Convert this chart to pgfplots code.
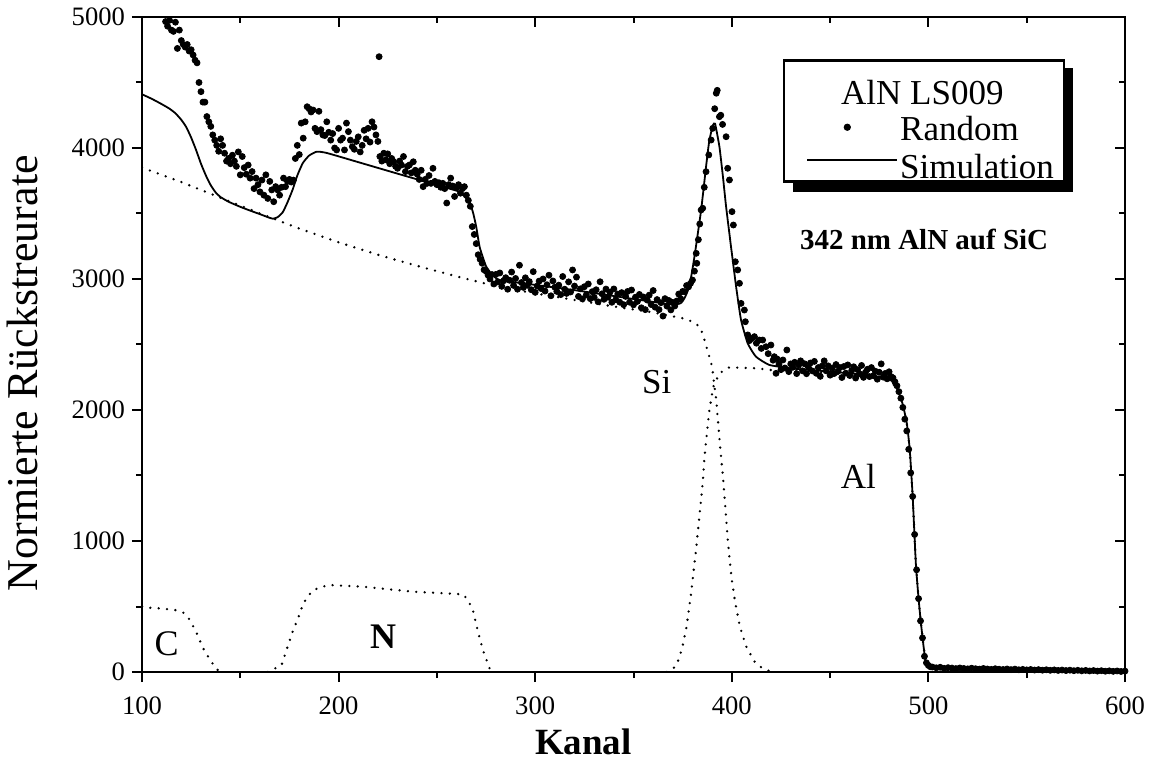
\documentclass[border=0pt]{standalone}
\usepackage{fontspec}
\setmainfont{Liberation Serif}
\usepackage{pgfplots}
\pgfplotsset{compat=1.18}
\usepackage{pgfplotstable}

\pgfplotstableread{
x y
100 5450
101 5400
102 5380
103 5300
104 5320
105 5250
106 5230
107 5180
108 5150
109 5100
110 5060
111 5010
112 4965
113 4930
114 4975
115 4900
116 4890
117 4960
118 4760
119 4900
120 4820
121 4790
122 4770
123 4790
124 4740
125 4750
126 4710
127 4670
128 4650
129 4500
130 4430
131 4350
132 4350
133 4240
134 4200
135 4165
136 4100
137 4060
138 4020
139 3975
140 4070
141 4020
142 3960
143 3900
144 3920
145 3880
146 3945
147 3900
148 3860
149 3970
150 3795
151 3935
152 3850
153 3800
154 3870
155 3770
156 3820
157 3690
158 3770
159 3720
160 3665
161 3755
162 3640
163 3795
164 3615
165 3745
166 3680
167 3590
168 3705
169 3680
170 3640
171 3700
172 3770
173 3705
174 3745
175 3760
176 3740
177 3755
178 3920
179 4020
180 3950
181 4190
182 4075
183 4200
184 4315
185 4300
186 4275
187 4290
188 4150
189 4125
190 4280
191 4140
192 4100
193 4095
194 4200
195 4120
196 4060
197 4110
198 4000
199 3985
200 4150
201 4060
202 4075
203 3985
204 4190
205 4125
206 4060
207 4010
208 3990
209 4050
210 4085
211 3970
212 4020
213 4135
214 4070
215 4150
216 4045
217 4200
218 4160
219 4100
220 4050
220.6 4697
221 3935
222 3900
223 3960
224 3910
225 3955
226 3880
227 3920
228 3895
229 3860
230 3845
231 3900
232 3870
233 3935
234 3820
235 3860
236 3870
237 3810
238 3895
239 3830
240 3800
241 3760
242 3830
243 3705
244 3760
245 3730
246 3790
247 3730
248 3845
249 3745
250 3720
251 3735
252 3700
253 3730
254 3690
255 3580
256 3720
257 3770
258 3710
259 3630
260 3700
261 3720
262 3655
263 3690
264 3705
265 3640
266 3600
267 3555
268 3400
269 3340
270 3270
271 3185
272 3150
273 3120
274 3070
275 3060
276 3030
277 3000
278 3034
279 2962
280 3035
281 2978
282 3046
283 2944
284 2987
285 3010
286 2922
287 2990
288 3053
289 2951
290 3004
291 2922
292 3105
293 2973
294 2936
295 3009
296 2952
297 2980
298 2918
299 3056
300 2898
301 2946
302 2984
303 2927
304 3000
305 2908
306 2956
307 3029
308 2872
309 2985
310 2937
311 2905
312 2953
313 2881
314 3019
315 2922
316 2890
317 2978
318 2901
319 3069
320 2946
321 3014
322 2867
323 2925
324 2848
325 2941
326 2879
327 2962
328 2850
329 2903
330 2860
331 2918
332 2826
333 2979
334 2887
335 2845
336 2923
337 2861
338 2899
339 2822
340 2924
341 2842
342 2885
343 2823
344 2896
345 2804
346 2867
347 2905
348 2823
349 2916
350 2803
351 2861
352 2829
353 2882
354 2780
355 2863
356 2766
357 2839
358 2877
359 2805
360 2912
361 2785
362 2843
363 2766
364 2819
365 2717
366 2850
367 2793
368 2836
369 2764
370 2821
371 2794
372 2832
373 2885
374 2850
375 2905
376 2903
377 2950
378 2940
379 2967
380 2992
381 3060
381.9 3196
382.2 3120
383 3300
383.7 3420
384.4 3527
385.2 3540
386 3700
386.9 3819
388.3 3947
389.5 4061
390.3 4150
391.3 4300
392.1 4418
392.6 4440
393.7 4239
394.4 4250
395.3 4180
397.1 4086
397.9 3845
398.8 3756
400.1 3514
400.8 3412
401.8 3132
403 3069
403.9 2967
404.7 2814
406.4 2763
406.9 2674
408.1 2573
409 2530
410 2545
411.5 2560
412.5 2510
414 2534
415 2470
415.7 2534
417.4 2483
418.5 2430
419.9 2496
421 2380
421.6 2407
422.5 2280
423 2390
424 2350
425 2308
426 2382
427 2321
428 2458
429 2293
430 2352
431 2326
432 2364
433 2278
434 2342
435 2375
436 2299
437 2353
438 2277
439 2325
440 2359
441 2298
442 2371
443 2280
444 2324
445 2257
446 2336
447 2375
448 2299
449 2337
450 2266
451 2320
452 2278
453 2347
454 2296
455 2324
456 2248
457 2332
458 2281
459 2344
460 2263
461 2302
462 2330
463 2244
464 2308
465 2276
466 2340
467 2249
468 2288
469 2311
470 2255
471 2324
472 2262
473 2296
474 2235
475 2288
476 2352
477 2251
478 2279
479 2238
480 2292
481 2255
482 2245
483 2215
484 2185
485 2140
486 2090
487 2020
488 1930
489 1840
490 1700
491 1520
492 1340
493 1050
494 780
495 560
496 390
497 260
498 120
499 70
500 50
501 40
502 38
504 32
506 36
508 28
510 33
512 30
514 26
516 31
518 27
520 24
522 29
524 25
526 22
528 27
530 23
532 20
534 25
536 21
538 19
540 23
542 18
544 22
546 17
548 20
550 16
552 19
554 15
556 18
558 14
560 17
562 13
564 16
566 12
568 15
570 11
572 14
574 10
576 13
578 9
580 12
582 8
584 11
586 7
588 10
590 6
592 9
594 5
596 8
598 4
600 7
}\randomdata

\pgfplotstableread{
x y
100 4410
105 4375
110 4335
114 4300
117 4265
120 4215
122.5 4160
125 4080
127.5 3985
130 3880
132.5 3790
135 3715
137.5 3660
140 3625
144 3590
149.8 3552
155 3522
160 3495
164 3472
166.6 3460
169 3472
171.6 3510
174 3585
176.7 3685
179 3790
181.8 3885
185 3942
188.9 3972
194 3962
210 3892
230 3804
250 3717
261.6 3666
264 3630
266.7 3585
268.5 3500
270 3399
271.7 3247
273.5 3160
275.1 3094
278 3035
282 2992
300 2955
320 2915
340 2870
360 2825
370 2805
374 2815
376 2855
378.5 2950
381 3170
384.4 3527
386.9 3857
388.5 4050
390.3 4170
391.5 4185
393.7 4010
395.5 3780
397.1 3552
399.6 3247
402.2 2941
404.7 2687
408.1 2509
412.3 2407
419.1 2344
430 2318
440 2305
460 2280
475 2254
480 2235
483 2200
485 2130
487 2040
489 1900
490.5 1700
492 1340
493.6 831
495 560
496.2 374
497.5 200
498.7 67
500 45
502 35
510 28
550 20
600 12
}\simdata

\pgfplotstableread{
x y
100 3850
120 3740
140 3620
160 3500
180 3385
200 3280
220 3185
240 3100
260 3020
280 2945
300 2890
320 2840
340 2790
360 2745
375 2700
380 2675
383.7 2636
385.4 2573
387.1 2483
388.8 2395
390 2331
391 2200
392.1 2076
393.9 1746
395.5 1491
396.8 1237
398.1 982
399.8 727
401.5 550
404.1 346
407.4 193
411.6 79
415 35
418.3 12
421 0
}\sidata

\pgfplotstableread{
x y
367 0
369.4 15
371.9 53
373.5 120
375 200
377 346
379.3 601
381.8 931
383.5 1186
385.2 1440
386 1618
387.3 1822
388.6 2000
390.6 2178
393.7 2280
398.8 2326
412.6 2318
420 2305
440 2290
460 2268
475 2245
481 2225
485 2130
487 2040
489 1900
490.5 1700
492 1340
493.6 831
495 560
496.2 374
497.5 200
498.7 67
500 20
502 0
}\aldata

\pgfplotstableread{
x y
164 0
166.7 20
171 53
173.5 168
176.9 321
179.4 410
182 524
186.2 613
190 645
195.5 664
212.5 651
237.9 613
255 600
263.3 593
265.8 550
268.3 473
270.9 308
273.4 168
276.8 28
279 0
}\ndata

\pgfplotstableread{
x y
100 500
103.2 491
110 485
116.8 473
121 453
124.4 397
127.8 297
131.1 181
134.6 92
138 21
140 0
}\cdata

\begin{document}
\begin{tikzpicture}
\pgfplotsset{
  dotcurve/.style={black, line width=1.3pt, dash pattern=on 0pt off 4.2pt, line cap=round, forget plot},
}
\begin{axis}[
  scale only axis, width=491.5pt, height=327.5pt,
  xmin=100, xmax=600, ymin=0, ymax=5000,
  xtick={100,200,...,600}, ytick={0,1000,...,5000},
  minor x tick num=1, minor y tick num=1,
  xtick pos=bottom, ytick pos=left, tick align=outside,
  major tick length=5pt, minor tick length=3pt,
  axis line style={line width=1.2pt},
  every tick/.style={black, line width=1pt},
  /pgf/number format/assume math mode=true,
  /pgf/number format/1000 sep={},
  scaled ticks=false,
  tick label style={font=\fontsize{13.3}{16}\selectfont},
  xticklabel style={yshift=-4pt},
  xlabel={\bfseries Kanal}, ylabel={Normierte Rückstreurate},
  xlabel style={font=\fontsize{18.5}{22}\selectfont, at={(axis description cs:0.449,-0.106)}, anchor=center},
  ylabel style={font=\fontsize{22}{26}\selectfont, at={(axis description cs:-0.122,0.456)}, anchor=center},
  legend cell align=left,
  legend style={at={(axis description cs:0.652,0.9355)}, anchor=north west,
    draw=black, line width=1.2pt, fill=white,
    inner xsep=2pt, inner ysep=0pt, row sep=0pt, column sep=1pt,
    font=\fontsize{17.5}{18}\selectfont,
    nodes={inner sep=0pt}, cells={anchor=base west}},
]
\addlegendimage{empty legend}
\addlegendentry{\hspace{-29.5pt}\rule[-3.3pt]{0pt}{25.3pt}AlN LS009}
\addlegendimage{black, legend image code/.code={\path (0pt,0pt); \draw[line width=0.6pt, mark=*, mark size=1.5pt] plot coordinates {(29pt,6.6pt)};}}
\addlegendentry{\rule[-3.3pt]{0pt}{19.8pt}Random}
\addlegendimage{black, legend image code/.code={\path (0pt,0pt); \draw[line width=0.9pt] (9pt,9.3pt) -- (54pt,9.3pt);}}
\addlegendentry{\rule[-5.5pt]{0pt}{23pt}Simulation\kern3pt\relax}

% legend shadow (covered by the white legend box except its offset edges)
\fill[black] ([shift={(5pt,-4.5pt)}]axis description cs:0.652,0.9355) rectangle ++(140pt,-62pt);

\addplot[dotcurve] table[x=x,y=y] {\cdata};
\addplot[dotcurve] table[x=x,y=y] {\ndata};
\addplot[dotcurve] table[x=x,y=y] {\sidata};
\addplot[dotcurve] table[x=x,y=y] {\aldata};
\addplot[black, line width=0.9pt, smooth, tension=0.3, forget plot] table[x=x,y=y] {\simdata};
\addplot[black, only marks, mark=*, mark size=1.5pt, forget plot] table[x=x,y=y] {\randomdata};

\node[font=\fontsize{18}{20}\selectfont] at (axis cs:112.5,219) {C};
\node[font=\bfseries\fontsize{18}{20}\selectfont] at (axis cs:222.7,270) {N};
\node[font=\fontsize{17.5}{20}\selectfont] at (axis cs:361.8,2216) {Si};
\node[font=\fontsize{17.5}{20}\selectfont] at (axis cs:464.4,1491) {Al};
\node[font=\bfseries\fontsize{14.5}{17}\selectfont] at (axis cs:497.8,3298) {342 nm AlN auf SiC};
\end{axis}
\begin{axis}[
  scale only axis, width=491.5pt, height=327.5pt,
  xmin=100, xmax=600, ymin=0, ymax=5000,
  xtick={100,200,...,600}, ytick={0,1000,...,5000},
  minor x tick num=1, minor y tick num=1,
  xtick pos=top, ytick pos=right, tick align=inside,
  major tick length=5pt, minor tick length=3pt,
  axis line style={line width=1.2pt},
  every tick/.style={black, line width=1pt},
  xticklabels={}, yticklabels={},
]
\end{axis}
\pgfresetboundingbox
\path[use as bounding box] (-71pt,-46.5pt) rectangle (506.5pt,336pt);
\end{tikzpicture}
\end{document}
